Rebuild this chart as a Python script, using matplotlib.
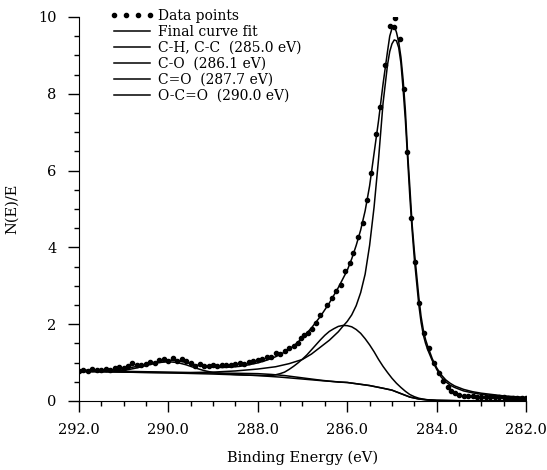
import matplotlib
matplotlib.use('Agg')
import matplotlib.pyplot as plt
from matplotlib.ticker import MultipleLocator, FormatStrFormatter

plt.rcParams['font.family'] = ['DejaVu Serif']

# measured spectrum (binding energy in eV, N(E)/E)
data_e = [292.0, 291.9, 291.8, 291.7, 291.6, 291.5, 291.4, 291.3, 291.2, 291.1,
          291.0, 290.9, 290.8, 290.7, 290.6, 290.5, 290.4, 290.3, 290.2, 290.1,
          290.0, 289.9, 289.8, 289.7, 289.6, 289.5, 289.4, 289.3, 289.2, 289.1,
          289.0, 288.9, 288.8, 288.7, 288.6, 288.5, 288.4, 288.3, 288.2, 288.1,
          288.0, 287.9, 287.8, 287.7, 287.6, 287.5, 287.4, 287.3, 287.2, 287.1,
          287.04, 286.97, 286.88, 286.78, 286.69, 286.60, 286.46, 286.34, 286.26, 286.15,
          286.04, 285.94, 285.86, 285.77, 285.65, 285.56, 285.46, 285.35, 285.26, 285.15,
          285.05, 284.96, 284.94, 284.83, 284.74, 284.66, 284.57, 284.48, 284.39, 284.29,
          284.18, 284.07, 283.95, 283.85, 283.75, 283.68, 283.6, 283.5, 283.4, 283.3,
          283.2, 283.1, 283.0, 282.9, 282.8, 282.7, 282.6, 282.5, 282.4, 282.3,
          282.2, 282.1, 282.0]
data_y = [0.79, 0.80, 0.78, 0.82, 0.80, 0.80, 0.82, 0.81, 0.85, 0.89,
          0.86, 0.90, 1.00, 0.93, 0.94, 0.96, 1.02, 1.00, 1.07, 1.09,
          1.05, 1.11, 1.03, 1.09, 1.04, 0.99, 0.90, 0.96, 0.92, 0.90,
          0.94, 0.91, 0.93, 0.94, 0.94, 0.96, 0.98, 0.97, 1.01, 1.03,
          1.07, 1.08, 1.14, 1.15, 1.24, 1.22, 1.31, 1.38, 1.44, 1.52,
          1.63, 1.72, 1.78, 1.88, 2.02, 2.24, 2.50, 2.67, 2.85, 3.02,
          3.39, 3.59, 3.85, 4.26, 4.64, 5.22, 5.93, 6.95, 7.66, 8.75,
          9.77, 9.75, 9.97, 9.42, 8.12, 6.49, 4.76, 3.63, 2.54, 1.76,
          1.37, 0.98, 0.72, 0.52, 0.36, 0.26, 0.21, 0.16, 0.13, 0.12,
          0.12, 0.11, 0.11, 0.10, 0.10, 0.10, 0.09, 0.09, 0.08, 0.08,
          0.08, 0.07, 0.07]

# final curve fit
fit_e = [292.0, 291.5, 291.0, 290.7, 290.4, 290.2, 290.0, 289.8, 289.6, 289.4,
         289.2, 289.0, 288.8, 288.6, 288.4, 288.2, 288.0, 287.8, 287.6, 287.4,
         287.2, 287.0, 286.8, 286.6, 286.4, 286.2, 286.0, 285.9, 285.8, 285.7,
         285.6, 285.5, 285.4, 285.3, 285.2, 285.1, 285.05, 285.0, 284.97, 284.93,
         284.9, 284.85, 284.8, 284.75, 284.7, 284.65, 284.6, 284.55, 284.5, 284.45,
         284.4, 284.35, 284.3, 284.25, 284.2, 284.1, 284.0, 283.9, 283.8, 283.7,
         283.6, 283.4, 283.2, 283.0, 282.5, 282.0]
fit_y = [0.80, 0.80, 0.83, 0.90, 0.98, 1.03, 1.06, 1.05, 1.00, 0.94,
         0.90, 0.88, 0.87, 0.88, 0.90, 0.94, 0.99, 1.06, 1.15, 1.27,
         1.43, 1.64, 1.90, 2.20, 2.55, 2.95, 3.40, 3.70, 4.05, 4.45,
         4.95, 5.60, 6.45, 7.30, 8.25, 9.10, 9.50, 9.70, 9.74, 9.70,
         9.60, 9.35, 8.95, 8.35, 7.55, 6.45, 5.55, 4.60, 3.90, 3.30,
         2.70, 2.20, 1.85, 1.60, 1.42, 1.10, 0.86, 0.68, 0.55, 0.46,
         0.39, 0.30, 0.24, 0.20, 0.13, 0.09]

# C-H, C-C component (with background)
ch_e = [292.0, 291.0, 290.0, 289.5, 289.0, 288.5, 288.0, 287.6, 287.3, 287.0,
        286.8, 286.6, 286.4, 286.2, 286.1, 286.0, 285.9, 285.8, 285.7, 285.6,
        285.5, 285.4, 285.3, 285.2, 285.1, 285.05, 285.0, 284.95, 284.9, 284.85,
        284.8, 284.75, 284.7, 284.65, 284.6, 284.55, 284.5, 284.45, 284.4, 284.35,
        284.3, 284.25, 284.2, 284.1, 284.0, 283.9, 283.8, 283.7, 283.6, 283.4,
        283.2, 283.0, 282.5, 282.0]
ch_y = [0.78, 0.77, 0.75, 0.74, 0.75, 0.78, 0.83, 0.89, 0.97, 1.08,
        1.22, 1.40, 1.58, 1.80, 1.94, 2.07, 2.24, 2.48, 2.82, 3.30,
        4.05, 5.05, 6.30, 7.75, 8.75, 9.10, 9.30, 9.40, 9.38, 9.20,
        8.80, 8.10, 7.30, 6.30, 5.30, 4.45, 3.70, 3.10, 2.50, 2.05,
        1.72, 1.50, 1.33, 1.05, 0.82, 0.62, 0.50, 0.41, 0.35, 0.26,
        0.21, 0.17, 0.11, 0.08]

# C-O component (with background)
co_e = [292.0, 291.0, 290.0, 289.0, 288.5, 288.0, 287.8, 287.7, 287.6, 287.5,
        287.4, 287.3, 287.2, 287.1, 287.0, 286.9, 286.8, 286.7, 286.6, 286.5,
        286.4, 286.3, 286.2, 286.1, 286.0, 285.9, 285.8, 285.7, 285.6, 285.5,
        285.4, 285.3, 285.2, 285.1, 285.0, 284.9, 284.8, 284.7, 284.6, 284.5,
        284.4, 284.3, 284.2, 284.0, 283.5, 283.0, 282.0]
co_y = [0.77, 0.75, 0.73, 0.70, 0.68, 0.665, 0.66, 0.66, 0.68, 0.71,
        0.75, 0.82, 0.90, 0.99, 1.09, 1.20, 1.33, 1.46, 1.59, 1.71,
        1.81, 1.88, 1.94, 1.965, 1.96, 1.93, 1.86, 1.76, 1.62, 1.46,
        1.28, 1.08, 0.90, 0.74, 0.59, 0.46, 0.35, 0.25, 0.165, 0.11,
        0.07, 0.045, 0.03, 0.015, 0.005, 0.0, 0.0]

# C=O component (with background)
cdo_e = [292.0, 291.0, 290.0, 289.5, 289.0, 288.5, 288.0, 287.7, 287.4, 287.0,
         286.6, 286.2, 286.0, 285.5, 285.2, 285.0, 284.8, 284.6, 284.4, 284.2,
         284.0, 283.5, 283.0, 282.0]
cdo_y = [0.77, 0.75, 0.735, 0.73, 0.725, 0.72, 0.71, 0.69, 0.66, 0.60,
         0.54, 0.49, 0.48, 0.40, 0.33, 0.28, 0.19, 0.10, 0.05, 0.025,
         0.012, 0.004, 0.0, 0.0]

# O-C=O component (with background)
ocdo_e = [292.0, 291.5, 291.0, 290.7, 290.4, 290.2, 290.0, 289.8, 289.6, 289.4,
          289.2, 289.0, 288.7, 288.3, 288.0, 287.5, 287.0, 286.5, 286.0, 285.5,
          285.2, 285.0, 284.8, 284.6, 284.4, 284.2, 284.0, 283.5, 283.0, 282.0]
ocdo_y = [0.77, 0.77, 0.79, 0.86, 0.95, 1.00, 1.02, 1.00, 0.94, 0.86,
          0.79, 0.74, 0.70, 0.675, 0.66, 0.62, 0.57, 0.52, 0.48, 0.40,
          0.33, 0.28, 0.19, 0.10, 0.05, 0.025, 0.012, 0.004, 0.0, 0.0]

fig = plt.figure(figsize=(5.47, 4.70), dpi=100)
ax = fig.add_axes([0.144, 0.147, 0.818, 0.817])

ax.plot(data_e, data_y, 'o', color='black', markersize=3, label='Data points')
ax.plot(fit_e, fit_y, color='black', lw=1.1, label='Final curve fit')
ax.plot(ch_e, ch_y, color='black', lw=1.1, label='C-H, C-C  (285.0 eV)')
ax.plot(co_e, co_y, color='black', lw=1.1, label='C-O  (286.1 eV)')
ax.plot(cdo_e, cdo_y, color='black', lw=1.1, label='C=O  (287.7 eV)')
ax.plot(ocdo_e, ocdo_y, color='black', lw=1.1, label='O-C=O  (290.0 eV)')

ax.set_xlim(292, 282)
ax.set_ylim(0, 10)
ax.spines['top'].set_visible(False)
ax.spines['right'].set_visible(False)

ax.xaxis.set_major_locator(MultipleLocator(2))
ax.xaxis.set_minor_locator(MultipleLocator(0.5))
ax.xaxis.set_major_formatter(FormatStrFormatter('%.1f'))
ax.yaxis.set_major_locator(MultipleLocator(2))
ax.yaxis.set_minor_locator(MultipleLocator(0.5))
ax.tick_params(which='major', direction='out', length=8, width=1, labelsize=10.5, pad=8)
ax.tick_params(which='minor', direction='out', length=3.5, width=1)

ax.set_xlabel('Binding Energy (eV)', fontsize=10.5, labelpad=10)
ax.set_ylabel('N(E)/E', fontsize=10.5, labelpad=14)

ax.legend(loc='upper left', bbox_to_anchor=(0.057, 1.036), frameon=False, numpoints=4,
          handlelength=3.2, handletextpad=0.3, labelspacing=0.15, fontsize=10,
          borderaxespad=0)

fig.savefig('out.png', dpi=100)
